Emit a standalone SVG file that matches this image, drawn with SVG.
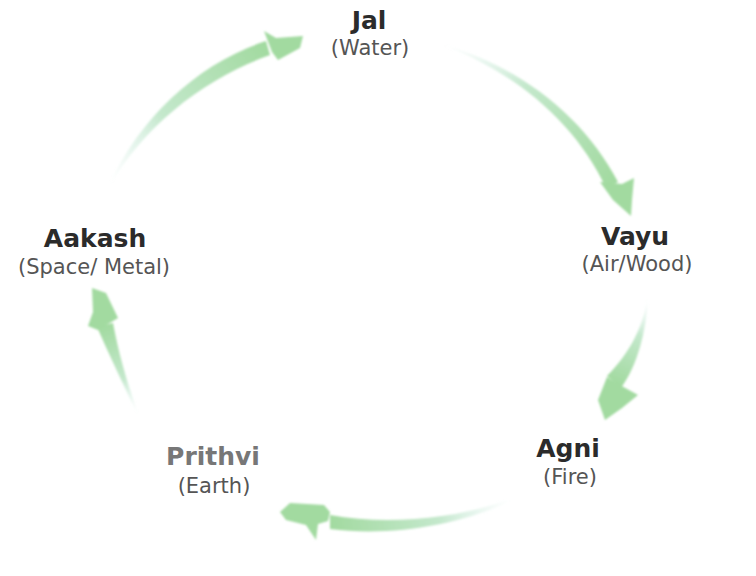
<svg xmlns="http://www.w3.org/2000/svg" width="756" height="576" viewBox="0 0 756 576">
<style>
.t{font-family:"DejaVu Sans","Verdana",sans-serif;font-weight:bold;font-size:25px;fill:#2b2b2b;text-anchor:middle}
.s{font-family:"DejaVu Sans","Verdana",sans-serif;font-size:21px;fill:#555;text-anchor:middle}
.head{fill:#a2daa0}
.arrow{filter:url(#soft)}
</style>
<defs>
<filter id="soft" x="-10%" y="-10%" width="120%" height="120%"><feGaussianBlur stdDeviation="1"/></filter>
<linearGradient id="g1" gradientUnits="userSpaceOnUse" x1="110" y1="183" x2="268" y2="48"><stop offset="0" stop-color="#d8f0ea" stop-opacity="0"/><stop offset="0.4" stop-color="#c4e8cc"/><stop offset="1" stop-color="#a2daa0"/></linearGradient>
<linearGradient id="g2" gradientUnits="userSpaceOnUse" x1="445" y1="45" x2="612" y2="185"><stop offset="0" stop-color="#d8f0ea" stop-opacity="0"/><stop offset="0.4" stop-color="#c4e8cc"/><stop offset="1" stop-color="#a2daa0"/></linearGradient>
<linearGradient id="g3" gradientUnits="userSpaceOnUse" x1="648" y1="300" x2="614" y2="382"><stop offset="0" stop-color="#d8f0ea" stop-opacity="0"/><stop offset="0.4" stop-color="#c4e8cc"/><stop offset="1" stop-color="#a2daa0"/></linearGradient>
<linearGradient id="g4" gradientUnits="userSpaceOnUse" x1="510" y1="500" x2="330" y2="522"><stop offset="0" stop-color="#d8f0ea" stop-opacity="0"/><stop offset="0.4" stop-color="#c4e8cc"/><stop offset="1" stop-color="#a2daa0"/></linearGradient>
<linearGradient id="g5" gradientUnits="userSpaceOnUse" x1="138" y1="413" x2="105" y2="325"><stop offset="0" stop-color="#d8f0ea" stop-opacity="0"/><stop offset="0.4" stop-color="#c4e8cc"/><stop offset="1" stop-color="#a2daa0"/></linearGradient>
</defs>
<rect width="756" height="576" fill="#fff"/>
<g id="connectors">
<g id="aakash-jal" class="arrow">
<path d="M110,183 C140,118 198,63 266,41 L270,55 C205,78 145,125 111,184 Z" fill="url(#g1)"/>
<path class="head" d="M264,31 L276,38 L303,36 L300,48 L278,60 L272,52 Z"/>
</g>
<g id="jal-vayu" class="arrow">
<path d="M445,45 C522,68 584,117 618,182 L606,188 C576,124 518,74 445,46 Z" fill="url(#g2)"/>
<path class="head" d="M600,182 L622,184 L634,178 L632,200 L631,216 L613,200 Z"/>
</g>
<g id="vayu-agni" class="arrow">
<path d="M648,300 C646,330 638,365 621,388 L607,376 C628,355 643,328 647,300 Z" fill="url(#g3)"/>
<path class="head" d="M607,377 L618,384 L638,395 L622,408 L605,420 L598,400 Z"/>
</g>
<g id="agni-prithvi" class="arrow">
<path d="M510,499 C460,518 390,526 330,515 L330,529 C390,537 460,525 511,501 Z" fill="url(#g4)"/>
<path class="head" d="M280,512 L290,503 L324,505 L330,512 L328,521 L318,524 L316,540 L306,525 L286,520 Z"/>
</g>
<g id="prithvi-aakash" class="arrow">
<path d="M138,413 C126,380 118,350 113,323 L97,327 C108,352 122,382 137,413 Z" fill="url(#g5)"/>
<path class="head" d="M92,288 L106,293 L118,318 L108,324 L98,330 L88,326 L93,312 Z"/>
</g>
</g>
<g id="jal"><text class="t" x="369" y="29">Jal</text><text class="s" x="370" y="55">(Water)</text></g>
<g id="vayu"><text class="t" x="635" y="245">Vayu</text><text class="s" x="637" y="271">(Air/Wood)</text></g>
<g id="agni"><text class="t" x="568" y="457">Agni</text><text class="s" x="570" y="484">(Fire)</text></g>
<g id="prithvi"><text class="t" x="213" y="465" style="fill:#777">Prithvi</text><text class="s" x="214" y="493">(Earth)</text></g>
<g id="aakash"><text class="t" x="95" y="247">Aakash</text><text class="s" x="94" y="274">(Space/ Metal)</text></g>
</svg>
